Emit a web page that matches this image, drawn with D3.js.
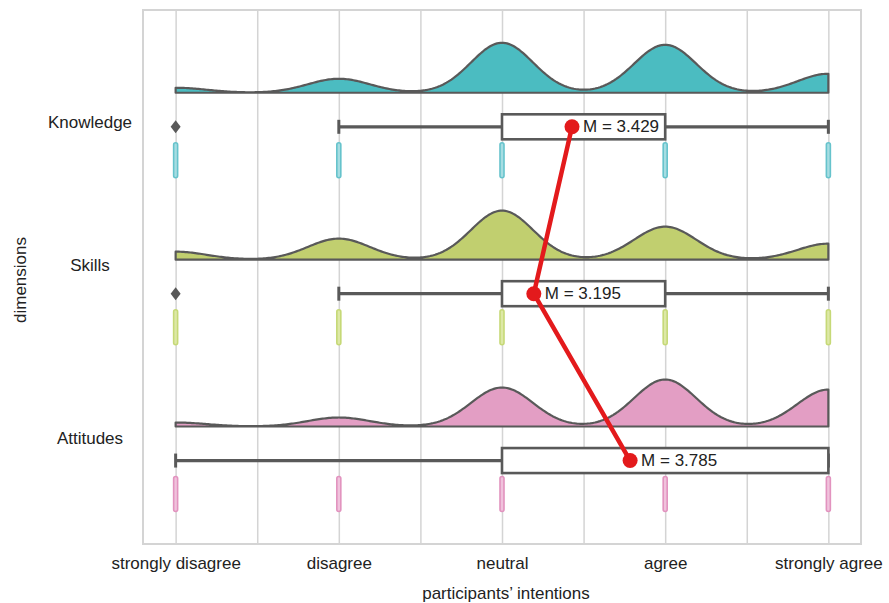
<!DOCTYPE html>
<html>
<head>
<meta charset="utf-8">
<script src="https://cdn.jsdelivr.net/npm/d3@7"></script>
<style>
  html, body { margin: 0; padding: 0; background: #ffffff; }
  svg { display: block; font-family: "Liberation Sans", Arial, sans-serif; }
</style>
</head>
<body>
<svg id="chart" width="889" height="603"></svg>
<script>
// ---------------- data ----------------
const categories = ["Knowledge", "Skills", "Attitudes"];
const responseLevels = [1, 2, 3, 4, 5];
const tickLabels = ["strongly disagree", "disagree", "neutral", "agree", "strongly agree"];
// estimated response counts per level (1..5)
const knowledgeCounts = [5, 14, 50, 48, 19];
const skillsCounts = [8, 21, 49, 33, 16];
const attitudesCounts = [4, 9, 39, 47, 37];
const meanValues = [3.429, 3.195, 3.785];
const xAxisTitle = "participants\u2019 intentions";
const yAxisTitle = "dimensions";

// ---------------- styles / layout ----------------
const countsByCat = [knowledgeCounts, skillsCounts, attitudesCounts];
const densityFill = ["#4bbcc1", "#c1cf6f", "#e39ec4"];
const rainStroke = ["#66c3cc", "#c6d977", "#e293bf"];
const rainFill = ["#a6dde2", "#dde8a6", "#f0c2dc"];
const darkGray = "#595959";
const red = "#e31a1c";
const gridColor = "#d4d4d4";
const textColor = "#222222";
const labelOffsets = [-3, -27, -21];
const fontSize = 17;

const svg = d3.select("#chart");
const pLeft = 143, pRight = 861, pTop = 10, pBottom = 544;
const x = d3.scaleLinear().domain([0.8, 5.2]).range([pLeft, pRight]);
const y = d3.scaleLinear().domain([-0.7, 2.5]).range([pTop, pBottom]);
const h = d3.scaleLinear().domain([0, 50]).range([0, 50]);
const bw = 0.19;

// gridlines
const grid = svg.append("g").attr("transform", `translate(0,${pBottom})`)
  .call(d3.axisBottom(x).tickValues(x.ticks(9)).tickSize(-(pBottom - pTop)).tickFormat(""));
grid.select(".domain").remove();
grid.selectAll(".tick line").attr("stroke", gridColor).attr("stroke-width", 1.5);

// frame
svg.append("rect").attr("x", pLeft).attr("y", pTop)
  .attr("width", pRight - pLeft).attr("height", pBottom - pTop)
  .attr("fill", "none").attr("stroke", gridColor).attr("stroke-width", 2);

// x tick labels
const xAxis = svg.append("g").attr("transform", `translate(0,${pBottom})`)
  .call(d3.axisBottom(x).tickValues(responseLevels).tickSize(0).tickPadding(13)
    .tickFormat((d, i) => tickLabels[i]));
xAxis.select(".domain").remove();
xAxis.selectAll("text").attr("font-size", fontSize).attr("fill", textColor)
  .attr("font-family", "Liberation Sans, Arial, sans-serif");

// axis titles
svg.append("text").attr("x", (pLeft + pRight) / 2 + 4).attr("y", 599)
  .attr("text-anchor", "middle").attr("font-size", fontSize).attr("fill", textColor)
  .text(xAxisTitle);
svg.append("text").attr("transform", `translate(26,280) rotate(-90)`)
  .attr("text-anchor", "middle").attr("font-size", fontSize).attr("fill", textColor)
  .text(yAxisTitle);

// category labels
svg.append("g").selectAll("text").data(categories).join("text")
  .attr("x", 90).attr("y", (d, i) => y(i) + labelOffsets[i])
  .attr("text-anchor", "middle").attr("dominant-baseline", "middle")
  .attr("font-size", fontSize).attr("fill", textColor)
  .text(d => d);

// densities (gaussian KDE of the counts)
const evalPts = d3.range(1, 5.0001, 0.01);
const densBase = 0.204; // offset above box centre, in y units
categories.forEach((cat, i) => {
  const counts = countsByCat[i];
  const dens = evalPts.map(v => [v, d3.sum(counts, (c, k) =>
    c * Math.exp(-((v - responseLevels[k]) ** 2) / (2 * bw * bw)))]);
  const base = y(i - densBase);
  const area = d3.area().x(d => x(d[0])).y0(base).y1(d => base - h(d[1]));
  svg.append("path").datum(dens).attr("d", area)
    .attr("fill", densityFill[i]).attr("stroke", darkGray).attr("stroke-width", 2.2)
    .attr("stroke-linejoin", "round");
});

// rain (strip marks)
categories.forEach((cat, i) => {
  const present = responseLevels.filter((v, k) => countsByCat[i][k] > 0);
  svg.append("g").selectAll("rect").data(present).join("rect")
    .attr("x", d => x(d) - 2).attr("y", y(i) + 16)
    .attr("width", 4).attr("height", 35).attr("rx", 2)
    .attr("fill", rainFill[i]).attr("stroke", rainStroke[i]).attr("stroke-width", 1.6);
});

// boxplots
categories.forEach((cat, i) => {
  const counts = countsByCat[i];
  const values = responseLevels.flatMap((v, k) => d3.range(counts[k]).map(() => v));
  values.sort(d3.ascending);
  const q1 = d3.quantile(values, 0.25), q3 = d3.quantile(values, 0.75);
  const iqr = q3 - q1;
  const inside = values.filter(v => v >= q1 - 1.5 * iqr && v <= q3 + 1.5 * iqr);
  const lo = d3.min(inside), hi = d3.max(inside);
  const outliers = Array.from(new Set(values.filter(v => v < lo || v > hi)));
  const cy = y(i);
  const g = svg.append("g");
  g.append("line").attr("x1", x(lo)).attr("x2", x(q1)).attr("y1", cy).attr("y2", cy)
    .attr("stroke", darkGray).attr("stroke-width", 3.2);
  g.append("line").attr("x1", x(q3)).attr("x2", x(hi)).attr("y1", cy).attr("y2", cy)
    .attr("stroke", darkGray).attr("stroke-width", 3.2);
  [lo, hi].forEach(v => g.append("line").attr("x1", x(v)).attr("x2", x(v))
    .attr("y1", cy - 7).attr("y2", cy + 7).attr("stroke", darkGray).attr("stroke-width", 3));
  g.append("rect").attr("x", x(q1)).attr("y", cy - 12.5)
    .attr("width", x(q3) - x(q1)).attr("height", 25)
    .attr("fill", "#ffffff").attr("stroke", darkGray).attr("stroke-width", 2.6);
  g.selectAll("path").data(outliers).join("path")
    .attr("d", d => `M${x(d)},${cy - 6.5} L${x(d) + 5},${cy} L${x(d)},${cy + 6.5} L${x(d) - 5},${cy} Z`)
    .attr("fill", darkGray);
});

// mean line + points + labels
const meanPts = meanValues.map((m, i) => [x(m), y(i)]);
svg.append("path").datum(meanPts).attr("d", d3.line())
  .attr("fill", "none").attr("stroke", red).attr("stroke-width", 4.5);
svg.append("g").selectAll("circle").data(meanPts).join("circle")
  .attr("cx", d => d[0]).attr("cy", d => d[1]).attr("r", 7.5).attr("fill", red);
svg.append("g").selectAll("text").data(meanValues).join("text")
  .attr("x", (d, i) => meanPts[i][0] + 11).attr("y", (d, i) => meanPts[i][1] + 1)
  .attr("dominant-baseline", "middle").attr("font-size", fontSize).attr("fill", textColor)
  .text(d => "M = " + d3.format(".3f")(d));
</script>
</body>
</html>
